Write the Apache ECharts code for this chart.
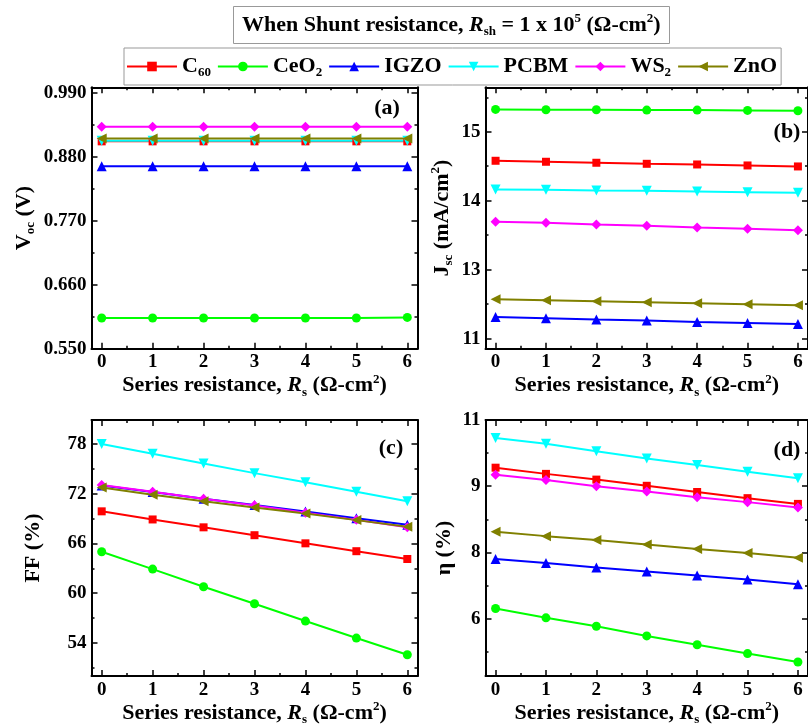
<!DOCTYPE html>
<html><head><meta charset="utf-8">
<script src="https://cdn.jsdelivr.net/npm/echarts@6/dist/echarts.min.js"></script>
<style>html,body{margin:0;padding:0;background:#fff}#c{width:808px;height:727px}</style>
</head><body><div id="c"></div>
<script>
// ---------- data ----------
const rs = [0, 1, 2, 3, 4, 5, 6];
const materials = ['C60', 'CeO2', 'IGZO', 'PCBM', 'WS2', 'ZnO'];
const legendLabels = ['C{sub|60}', 'CeO{sub|2}', 'IGZO', 'PCBM', 'WS{sub|2}', 'ZnO'];

// (a) Voc (V)
const voc_C60  = [0.907, 0.907, 0.907, 0.907, 0.907, 0.907, 0.907];
const voc_CeO2 = [0.603, 0.603, 0.603, 0.603, 0.603, 0.603, 0.604];
const voc_IGZO = [0.864, 0.864, 0.864, 0.864, 0.864, 0.864, 0.864];
const voc_PCBM = [0.908, 0.908, 0.908, 0.908, 0.908, 0.908, 0.908];
const voc_WS2  = [0.932, 0.932, 0.932, 0.932, 0.932, 0.932, 0.932];
const voc_ZnO  = [0.912, 0.912, 0.912, 0.912, 0.912, 0.912, 0.912];

// (b) Jsc (mA/cm2)
const jsc_C60  = [14.474, 14.456, 14.438, 14.419, 14.407, 14.389, 14.371];
const jsc_CeO2 = [15.405, 15.399, 15.399, 15.393, 15.393, 15.387, 15.381];
const jsc_IGZO = [11.643, 11.619, 11.595, 11.577, 11.553, 11.535, 11.516];
const jsc_PCBM = [13.954, 13.948, 13.936, 13.930, 13.917, 13.905, 13.893];
const jsc_WS2  = [13.367, 13.349, 13.319, 13.294, 13.264, 13.240, 13.216];
const jsc_ZnO  = [11.964, 11.946, 11.928, 11.910, 11.891, 11.873, 11.855];

// (c) FF (%)
const ff_C60  = [69.88, 68.90, 67.95, 67.00, 66.02, 65.07, 64.13];
const ff_CeO2 = [65.00, 62.91, 60.78, 58.73, 56.64, 54.59, 52.58];
const ff_IGZO = [73.00, 72.20, 71.40, 70.65, 69.85, 69.05, 68.25];
const ff_PCBM = [78.00, 76.82, 75.64, 74.49, 73.39, 72.25, 71.10];
const ff_WS2  = [73.07, 72.25, 71.40, 70.60, 69.70, 68.85, 67.95];
const ff_ZnO  = [72.76, 71.89, 71.10, 70.35, 69.61, 68.82, 68.03];

// (d) efficiency (%)
const eta_C60  = [9.42, 9.28, 9.15, 9.01, 8.87, 8.73, 8.60];
const eta_CeO2 = [6.23, 6.02, 5.83, 5.61, 5.41, 5.21, 5.02];
const eta_IGZO = [7.35, 7.26, 7.16, 7.07, 6.98, 6.89, 6.78];
const eta_PCBM = [10.09, 9.96, 9.79, 9.63, 9.48, 9.33, 9.18];
const eta_WS2  = [9.26, 9.14, 9.00, 8.88, 8.75, 8.64, 8.52];
const eta_ZnO  = [7.97, 7.87, 7.78, 7.68, 7.58, 7.49, 7.38];

// ticks
const xTicks = [0, 1, 2, 3, 4, 5, 6];
const xMinor = [0.5, 1.5, 2.5, 3.5, 4.5, 5.5];
const vocTicks = [0.55, 0.66, 0.77, 0.88, 0.99];
const vocMinor = [0.605, 0.715, 0.825, 0.935];
const jscTicks = [11.25, 12.5, 13.75, 15];
const jscMinor = [11.875, 13.125, 14.375, 15.625];
const ffTicks = [54, 60, 66, 72, 78];
const ffMinor = [51, 57, 63, 69, 75];
const etaTicks = [6, 7.5, 9, 10.5];
const etaMinor = [5.25, 6.75, 8.25, 9.75];

// ---------- styles ----------
const FONT = '"Liberation Serif", "Times New Roman", serif';
const colors = ['#ff0000', '#00ff00', '#0000ff', '#00ffff', '#ff00ff', '#808000'];
const symbols = ['rect', 'circle', 'triangle', 'path://M0,0L10,0L5,9Z', 'diamond', 'path://M9,0L9,10L0,5Z'];
const symbolSizes = [8, 9, 10, 10, 10, 10];

function richFor(size) {
  return {
    sub: { fontFamily: FONT, fontWeight: 'bold', fontSize: Math.round(size * 0.6), lineHeight: Math.round(size * 0.65), verticalAlign: 'bottom', color: '#000' },
    sup: { fontFamily: FONT, fontWeight: 'bold', fontSize: Math.round(size * 0.6), lineHeight: Math.round(size * 0.65), verticalAlign: 'top', color: '#000' },
    i: { fontFamily: FONT, fontWeight: 'bold', fontStyle: 'italic', fontSize: size, lineHeight: Math.round(size * 1.2), color: '#000' }
  };
}
const nameStyle = { fontFamily: FONT, fontWeight: 'bold', fontSize: 22, lineHeight: 26, color: '#000', rich: richFor(22) };
const labelStyle = { fontFamily: FONT, fontWeight: 'bold', fontSize: 19, color: '#000' };
const tickLine = { color: '#000', width: 1.5 };
const axisLine = { show: true, onZero: false, lineStyle: { color: '#000', width: 2 } };

const grids = [
  { left: 91.5, top: 87.3, width: 326, height: 261.5 },
  { left: 485.5, top: 87.3, width: 327, height: 261.5 },
  { left: 91.5, top: 420, width: 326, height: 261 },
  { left: 485.5, top: 420, width: 327, height: 260 }
];

const xName = 'Series resistance, {i|R}{sub|s} (Ω-cm{sup|2})';

function makeX(g) {
  const base = { gridIndex: g, type: 'value', min: -0.2, max: 6.2, splitLine: { show: false } };
  return [
    Object.assign({}, base, {
      position: 'bottom', axisLine,
      axisTick: { show: true, inside: true, length: 6, customValues: xTicks, lineStyle: tickLine },
      axisLabel: Object.assign({ show: true, customValues: xTicks, margin: 4 }, labelStyle),
      name: xName, nameLocation: 'middle', nameGap: 21, nameTextStyle: nameStyle
    }),
    Object.assign({}, base, {
      position: 'top', axisLine,
      axisTick: { show: true, inside: true, length: 6, customValues: xTicks, lineStyle: tickLine },
      axisLabel: { show: false }
    }),
    Object.assign({}, base, {
      position: 'bottom', axisLine: { show: false, onZero: false },
      axisTick: { show: true, inside: true, length: 3, customValues: xMinor, lineStyle: tickLine },
      axisLabel: { show: false }
    }),
    Object.assign({}, base, {
      position: 'top', axisLine: { show: false, onZero: false },
      axisTick: { show: true, inside: true, length: 3, customValues: xMinor, lineStyle: tickLine },
      axisLabel: { show: false }
    })
  ];
}

function makeY(g, min, max, ticks, minor, fmt, name, nameGap) {
  const base = { gridIndex: g, type: 'value', min, max, splitLine: { show: false } };
  return [
    Object.assign({}, base, {
      position: 'left', axisLine,
      axisTick: { show: true, inside: true, length: 6, customValues: ticks, lineStyle: tickLine },
      axisLabel: Object.assign({ show: true, customValues: ticks, formatter: fmt, margin: 5 }, labelStyle),
      name, nameLocation: 'middle', nameRotate: 90, nameGap, nameTextStyle: nameStyle
    }),
    Object.assign({}, base, {
      position: 'right', axisLine,
      axisTick: { show: true, inside: true, length: 6, customValues: ticks, lineStyle: tickLine },
      axisLabel: { show: false }
    }),
    Object.assign({}, base, {
      position: 'left', axisLine: { show: false, onZero: false },
      axisTick: { show: true, inside: true, length: 3, customValues: minor, lineStyle: tickLine },
      axisLabel: { show: false }
    }),
    Object.assign({}, base, {
      position: 'right', axisLine: { show: false, onZero: false },
      axisTick: { show: true, inside: true, length: 3, customValues: minor, lineStyle: tickLine },
      axisLabel: { show: false }
    })
  ];
}

const xAxes = [].concat(makeX(0), makeX(1), makeX(2), makeX(3));
const yAxes = [].concat(
  makeY(0, 0.55, 1.0, vocTicks, vocMinor, v => v.toFixed(3), 'V{sub|oc} (V)', 54),
  makeY(1, 11.065, 15.806, jscTicks, jscMinor, v => String(Math.round(v)), 'J{sub|sc} (mA/cm{sup|2})', 30),
  makeY(2, 50, 80.9, ffTicks, ffMinor, v => String(Math.round(v)), 'FF (%)', 45),
  makeY(3, 4.7, 10.5, etaTicks, etaMinor, v => String(Math.round(v)), 'η (%)', 28)
);

const panelData = [
  [voc_C60, voc_CeO2, voc_IGZO, voc_PCBM, voc_WS2, voc_ZnO],
  [jsc_C60, jsc_CeO2, jsc_IGZO, jsc_PCBM, jsc_WS2, jsc_ZnO],
  [ff_C60, ff_CeO2, ff_IGZO, ff_PCBM, ff_WS2, ff_ZnO],
  [eta_C60, eta_CeO2, eta_IGZO, eta_PCBM, eta_WS2, eta_ZnO]
];

const series = [];
panelData.forEach((arrs, g) => {
  arrs.forEach((arr, k) => {
    series.push({
      type: 'line', name: materials[k],
      xAxisIndex: 4 * g, yAxisIndex: 4 * g,
      data: rs.map((x, i) => [x, arr[i]]),
      symbol: symbols[k], symbolSize: symbolSizes[k],
      lineStyle: { color: colors[k], width: 2 },
      itemStyle: { color: colors[k] },
      showSymbol: true, animation: false, silent: true
    });
  });
});

const panelLabels = [['(a)', 387, 108], ['(b)', 787, 132], ['(c)', 391, 448], ['(d)', 787, 450]];

const option = {
  backgroundColor: '#fff',
  animation: false,
  title: {
    text: 'When Shunt resistance, {i|R}{sub|sh} = 1 x 10{sup|5} (Ω-cm{sup|2})',
    left: 233, top: 6, padding: [6, 9, 6, 9],
    borderColor: '#999', borderWidth: 1,
    textStyle: { fontFamily: FONT, fontWeight: 'bold', fontSize: 22, lineHeight: 26, color: '#000', rich: richFor(22) }
  },
  legend: {
    data: materials, left: 124, top: 48,
    padding: [6, 4, 6, 2], itemGap: 6, itemWidth: 50, itemHeight: 12,
    borderColor: '#999', borderWidth: 1,
    formatter: n => legendLabels[materials.indexOf(n)],
    textStyle: { fontFamily: FONT, fontWeight: 'bold', fontSize: 22, lineHeight: 25, color: '#000', rich: richFor(22) }
  },
  grid: grids,
  xAxis: xAxes,
  yAxis: yAxes,
  series,
  graphic: panelLabels.map(p => ({
    type: 'text', x: p[1], y: p[2], silent: true,
    style: { text: p[0], align: 'center', verticalAlign: 'middle', fill: '#000', font: 'bold 22px ' + FONT }
  }))
};

const chart = echarts.init(document.getElementById('c'), null, { renderer: 'canvas' });
chart.setOption(option);
</script>
</body></html>
